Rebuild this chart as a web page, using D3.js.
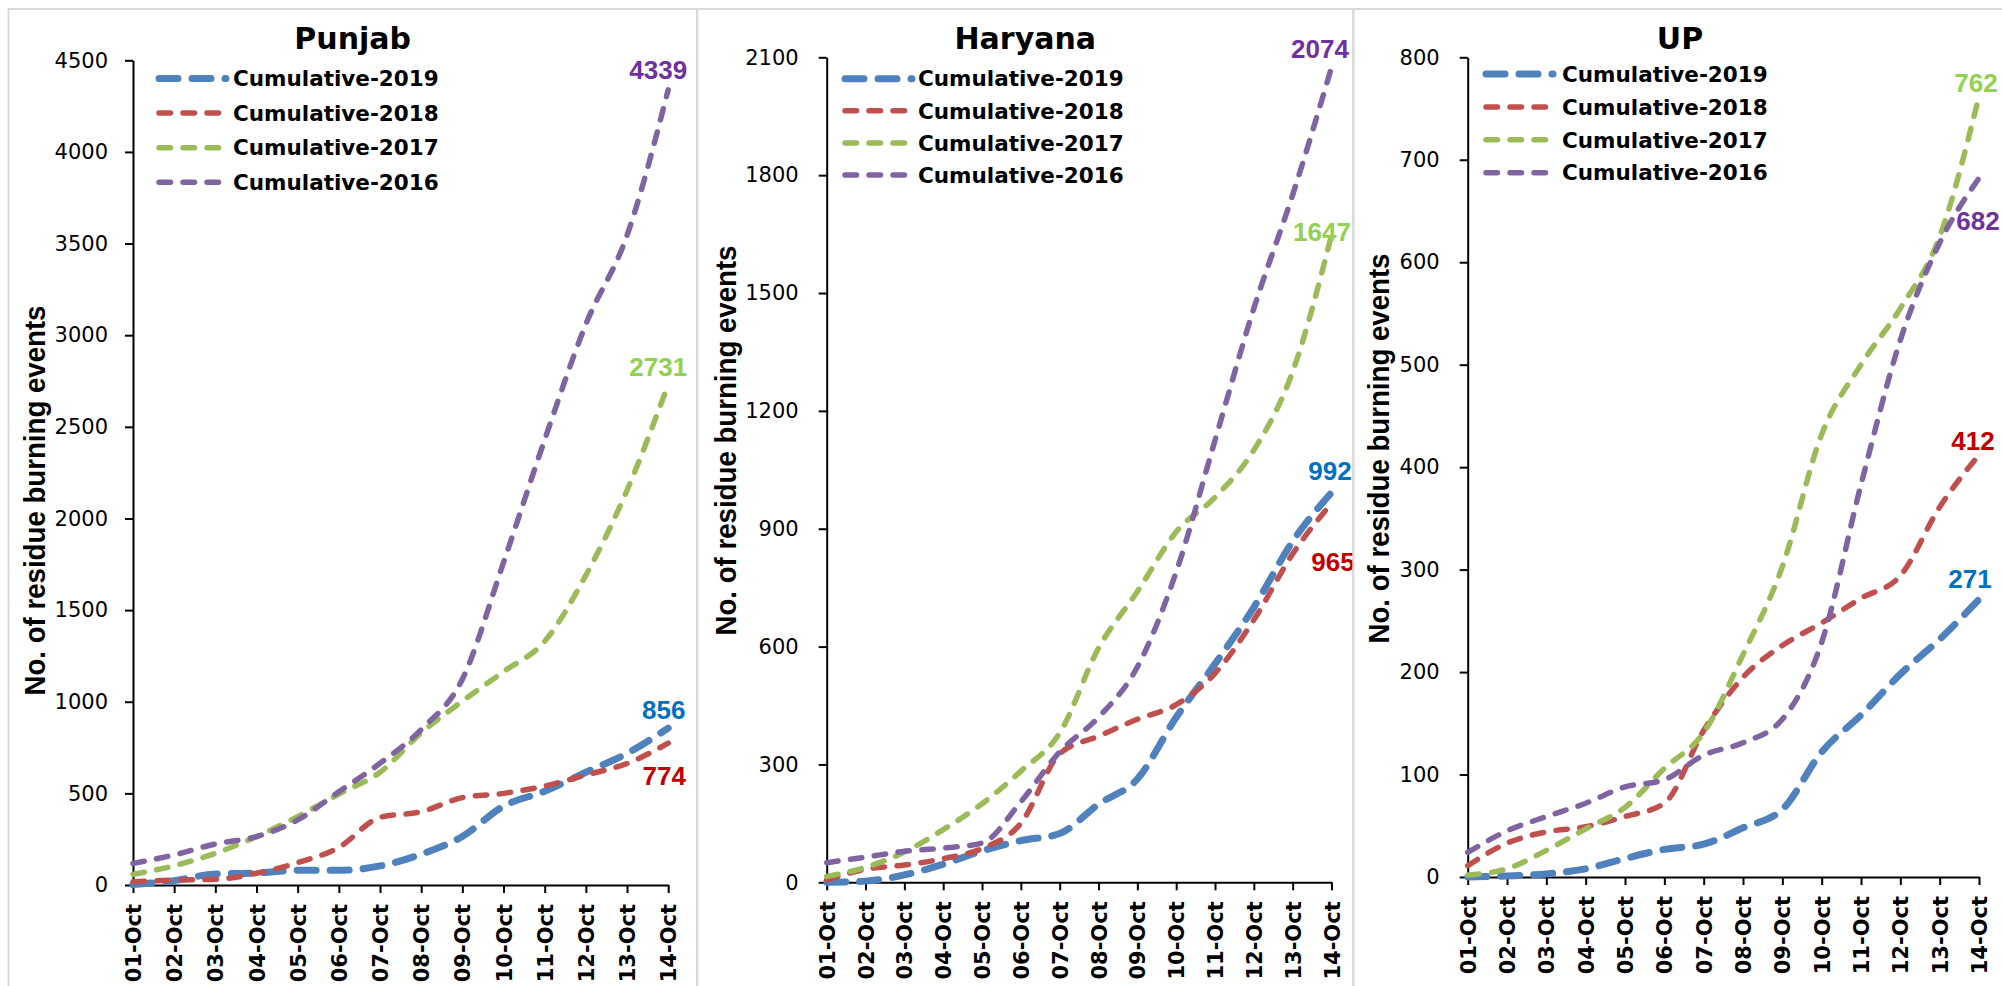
<!DOCTYPE html>
<html>
<head>
<meta charset="utf-8">
<script src="https://cdn.jsdelivr.net/npm/d3@7"></script>
<style>
  body { margin: 0; background: #fff; }
</style>
</head>
<body>
<script>
const dates = ["01-Oct", "02-Oct", "03-Oct", "04-Oct", "05-Oct", "06-Oct", "07-Oct",
  "08-Oct", "09-Oct", "10-Oct", "11-Oct", "12-Oct", "13-Oct", "14-Oct"];
const seriesNames = ["Cumulative-2019", "Cumulative-2018", "Cumulative-2017", "Cumulative-2016"];

// Punjab
const punjab2019 = [2, 24, 60, 65, 80, 80, 104, 168, 265, 430, 512, 615, 718, 856];
const punjab2018 = [18, 27, 31, 64, 122, 205, 369, 400, 477, 500, 540, 600, 663, 774];
const punjab2017 = [58, 105, 173, 264, 373, 496, 615, 830, 1003, 1164, 1330, 1690, 2154, 2731];
const punjab2016 = [118, 164, 224, 264, 355, 509, 664, 848, 1123, 1760, 2430, 3060, 3545, 4339];

// Haryana
const haryana2019 = [0, 3, 19, 46, 80, 106, 124, 199, 263, 420, 556, 700, 868, 992];
const haryana2018 = [6, 33, 44, 60, 86, 150, 327, 372, 415, 452, 532, 668, 836, 965];
const haryana2017 = [15, 38, 77, 134, 200, 283, 380, 596, 740, 892, 980, 1100, 1300, 1647];
const haryana2016 = [50, 64, 79, 87, 100, 205, 332, 420, 548, 790, 1125, 1461, 1750, 2074];

// UP
const up2019 = [0, 1, 3, 8, 18, 27, 32, 48, 66, 122, 158, 198, 232, 271];
const up2018 = [11, 33, 44, 49, 59, 72, 143, 195, 226, 248, 272, 294, 361, 412];
const up2017 = [2, 8, 26, 47, 68, 106, 141, 217, 303, 432, 500, 555, 625, 762];
const up2016 = [24, 45, 59, 72, 88, 95, 119, 131, 154, 229, 383, 524, 619, 682];

// axis min, max and step
const punjabTicks = [0, 4500, 500];
const haryanaTicks = [0, 2100, 300];
const upTicks = [0, 800, 100];

const lineColors = ["#4F81BD", "#C0504D", "#9BBB59", "#8064A2"];
const labelColors = ["#0070C0", "#C00000", "#92D050", "#7030A0"];
const lineWidths = [7, 5.5, 5.5, 5.5];
const lineDash = ["19,14", "11.5,12.5", "11.5,12.5", "11.5,12.5"];

const fTick = "'DejaVu Sans', Verdana, sans-serif";
const fLabel = "'Liberation Sans', Arial, sans-serif";
const fAxisTitle = "'Liberation Sans Narrow', 'Liberation Sans', Arial, sans-serif";

const panels = [
  {
    title: "Punjab", data: [punjab2019, punjab2018, punjab2017, punjab2016], ticks: punjabTicks,
    box: [8.5, 697], x0: 133, x1: 668.2, y0: 885, yTop: 60.3, pad: 17, titleX: 352.7,
    legX: 156, legTextX: 233, legY: 78.5, legStep: 34.6,
    yTitleX: 44.5, yTitleY: 500.5,
    offs: [[-4.5, -18], [-4, 32], [-10, -17.5], [-10, -20]]
  },
  {
    title: "Haryana", data: [haryana2019, haryana2018, haryana2017, haryana2016], ticks: haryanaTicks,
    box: [697.3, 1353.3], x0: 826.7, x1: 1331.5, y0: 882.3, yTop: 57.3, pad: 20, titleX: 1025.3,
    legX: 842, legTextX: 918, legY: 78.7, legStep: 32.1,
    yTitleX: 735.5, yTitleY: 440.5,
    offs: [[-1.5, -21.6], [1.5, 58], [-9.5, -4], [-11.5, -19]]
  },
  {
    title: "UP", data: [up2019, up2018, up2017, up2016], ticks: upTicks,
    box: [1353.3, 2008], x0: 1467.7, x1: 1979, y0: 877, yTop: 57.3, pad: 20, titleX: 1680,
    legX: 1483, legTextX: 1562, legY: 74, legStep: 32.9,
    yTitleX: 1388.5, yTitleY: 448.5,
    offs: [[-9, -21], [-6, -14], [-3, -14], [-1, 42]]
  }
];

const svg = d3.select("body").append("svg")
  .attr("width", 2002)
  .attr("height", 986);

svg.append("rect").attr("width", 2002).attr("height", 986).attr("fill", "#fff");

panels.forEach(p => {
  const g = svg.append("g");

  g.append("rect")
    .attr("x", p.box[0]).attr("y", 9)
    .attr("width", p.box[1] - p.box[0]).attr("height", 1000)
    .attr("fill", "none")
    .attr("stroke", "#d9d9d9")
    .attr("stroke-width", 2);

  const x = d3.scalePoint().domain(dates).range([p.x0, p.x1]);
  const y = d3.scaleLinear().domain([p.ticks[0], p.ticks[1]]).range([p.y0, p.yTop]);

  const yAxis = g.append("g")
    .attr("transform", `translate(${p.x0},0)`)
    .call(d3.axisLeft(y)
      .tickValues(d3.range(p.ticks[0], p.ticks[1] + 1, p.ticks[2]))
      .tickFormat(d3.format("d"))
      .tickSize(8).tickSizeOuter(0).tickPadding(p.pad));
  yAxis.selectAll("path, line").attr("stroke", "#000").attr("stroke-width", 2);
  yAxis.selectAll("text")
    .attr("font-family", fTick)
    .attr("font-size", 21)
    .attr("fill", "#000");

  const xAxis = g.append("g")
    .attr("transform", `translate(0,${p.y0})`)
    .call(d3.axisBottom(x).tickSize(8).tickSizeOuter(0));
  xAxis.selectAll("path, line").attr("stroke", "#000").attr("stroke-width", 2);
  xAxis.selectAll("text")
    .attr("transform", "rotate(-90)")
    .attr("x", -19)
    .attr("y", 0)
    .attr("dy", "0.36em")
    .attr("text-anchor", "end")
    .attr("font-family", fTick)
    .attr("font-weight", "bold")
    .attr("font-size", 21)
    .attr("fill", "#000");

  // title
  g.append("text")
    .attr("x", p.titleX).attr("y", 48.5)
    .attr("text-anchor", "middle")
    .attr("font-family", fTick)
    .attr("font-weight", "bold")
    .attr("font-size", 30)
    .text(p.title);

  // y axis title
  g.append("text")
    .attr("transform", `translate(${p.yTitleX},${p.yTitleY}) rotate(-90)`)
    .attr("text-anchor", "middle")
    .attr("font-family", fAxisTitle)
    .attr("font-weight", "bold")
    .attr("font-size", 29)
    .attr("textLength", 390)
    .attr("lengthAdjust", "spacingAndGlyphs")
    .text("No. of residue burning events");

  const line = d3.line()
    .x((d, i) => x(dates[i]))
    .y(d => y(d))
    .curve(d3.curveMonotoneX);

  p.data.forEach((vals, k) => {
    g.append("path")
      .datum(vals)
      .attr("d", line)
      .attr("fill", "none")
      .attr("stroke", lineColors[k])
      .attr("stroke-width", lineWidths[k])
      .attr("stroke-dasharray", lineDash[k])
      .attr("stroke-linecap", "round")
      .attr("stroke-linejoin", "round");

    const last = vals.length - 1;
    g.append("text")
      .attr("x", x(dates[last]) + p.offs[k][0])
      .attr("y", y(vals[last]) + p.offs[k][1])
      .attr("dy", "0.36em")
      .attr("text-anchor", "middle")
      .attr("font-family", fLabel)
      .attr("font-weight", "bold")
      .attr("font-size", 26)
      .attr("fill", labelColors[k])
      .text(vals[last]);
  });

  // legend
  seriesNames.forEach((name, k) => {
    const ly = p.legY + k * p.legStep;
    g.append("line")
      .attr("x1", p.legX + 3).attr("x2", p.legX + 70)
      .attr("y1", ly).attr("y2", ly)
      .attr("stroke", lineColors[k])
      .attr("stroke-width", lineWidths[k])
      .attr("stroke-dasharray", lineDash[k])
      .attr("stroke-linecap", "round");
    g.append("text")
      .attr("x", p.legTextX).attr("y", ly)
      .attr("dy", "0.36em")
      .attr("font-family", fTick)
      .attr("font-weight", "bold")
      .attr("font-size", 21.5)
      .attr("fill", "#000")
      .text(name);
  });
});
</script>
</body>
</html>
